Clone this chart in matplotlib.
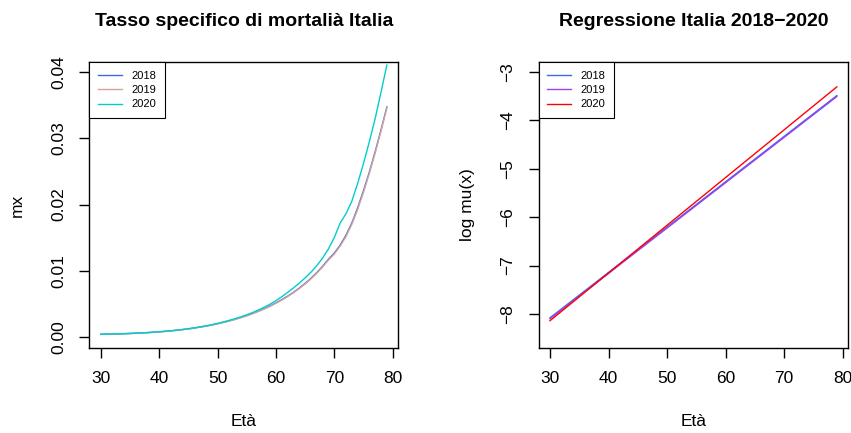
import numpy as np
import matplotlib
matplotlib.use("Agg")
from matplotlib import pyplot as plt

plt.rcParams['font.family'] = ['Liberation Sans', 'DejaVu Sans']

# eta' 30-79
ages = list(range(30, 80))

# tassi specifici di mortalita' (mx) per anno
mx2018 = [0.00037, 0.00039, 0.00041, 0.00043, 0.00046, 0.00049, 0.00053, 0.00057, 0.00062, 0.00068,
          0.00074, 0.00081, 0.00089, 0.00098, 0.00108, 0.00119, 0.00132, 0.00146, 0.00161, 0.00178,
          0.00197, 0.00218, 0.00240, 0.00264, 0.00291, 0.00320, 0.00352, 0.00387, 0.00425, 0.00466,
          0.00511, 0.00560, 0.00613, 0.00672, 0.00736, 0.00806, 0.00884, 0.00970, 0.01066, 0.01172,
          0.01265, 0.01385, 0.01535, 0.01720, 0.01950, 0.02210, 0.02490, 0.02800, 0.03130, 0.03475]
mx2019 = [0.00036, 0.00038, 0.00040, 0.00042, 0.00045, 0.00048, 0.00052, 0.00056, 0.00061, 0.00067,
          0.00073, 0.00080, 0.00088, 0.00097, 0.00107, 0.00118, 0.00130, 0.00144, 0.00159, 0.00176,
          0.00195, 0.00215, 0.00237, 0.00261, 0.00287, 0.00316, 0.00348, 0.00382, 0.00420, 0.00460,
          0.00505, 0.00553, 0.00606, 0.00665, 0.00728, 0.00798, 0.00874, 0.00960, 0.01055, 0.01160,
          0.01250, 0.01370, 0.01515, 0.01700, 0.01925, 0.02185, 0.02470, 0.02780, 0.03110, 0.03460]
mx2020 = [0.00037, 0.00039, 0.00041, 0.00044, 0.00047, 0.00050, 0.00054, 0.00058, 0.00063, 0.00069,
          0.00075, 0.00082, 0.00090, 0.00099, 0.00110, 0.00121, 0.00134, 0.00148, 0.00164, 0.00182,
          0.00202, 0.00224, 0.00247, 0.00273, 0.00301, 0.00332, 0.00366, 0.00404, 0.00446, 0.00492,
          0.00545, 0.00605, 0.00670, 0.00738, 0.00810, 0.00890, 0.00975, 0.01075, 0.01190, 0.01330,
          0.01500, 0.01720, 0.01860, 0.02050, 0.02320, 0.02620, 0.02950, 0.03300, 0.03700, 0.04110]

# rette di regressione: log mu(x) stimato agli estremi (30, 79)
fit_ages = [30, 79]
fit2018 = [-8.08, -3.49]
fit2019 = [-8.10, -3.51]
fit2020 = [-8.14, -3.31]

years = ['2018', '2019', '2020']
col_mx = ['#3F6AD8', '#D2A49A', '#00CDCD']
col_fit = ['#4169E1', '#A040F0', '#FF0000']

W, H = 851, 433
fig = plt.figure(figsize=(W / 100, H / 100), dpi=100)

top = 1 - 61.7 / H
bottom = 1 - 348.3 / H
ax1 = fig.add_axes([89.3 / W, bottom, (398.3 - 89.3) / W, top - bottom])
ax2 = fig.add_axes([538.5 / W, bottom, (848.3 - 538.5) / W, top - bottom])


def r_style(ax, yticks, ylabels):
    ax.set_xlim(28.04, 80.96)
    ax.set_xticks([30, 40, 50, 60, 70, 80])
    ax.set_yticks(yticks)
    ax.set_yticklabels(ylabels)
    for s in ax.spines.values():
        s.set_linewidth(1.0)
    ax.tick_params(direction='out', length=7.5, width=1.0, labelsize=12.5, pad=9)
    for lab in ax.get_yticklabels():
        lab.set_rotation(90)
        lab.set_va('center')


for y, c, lab in zip([mx2018, mx2019, mx2020], col_mx, years):
    ax1.plot(ages, y, color=c, lw=1.0, label=lab)
ax1.set_ylim(-0.00175, 0.0416)
r_style(ax1, [0.00, 0.01, 0.02, 0.03, 0.04], ['0.00', '0.01', '0.02', '0.03', '0.04'])

for y, c, lab in zip([fit2018, fit2019, fit2020], col_fit, years):
    ax2.plot(fit_ages, y, color=c, lw=1.0, label=lab)
ax2.set_ylim(-8.71, -2.79)
r_style(ax2, [-8, -7, -6, -5, -4, -3],
        ['\u22128', '\u22127', '\u22126', '\u22125', '\u22124', '\u22123'])

for ax in (ax1, ax2):
    leg = ax.legend(loc='upper left', bbox_to_anchor=(0, 1), borderaxespad=0,
                    fancybox=False, edgecolor='black', framealpha=1, fontsize=8,
                    handlelength=2.1, handletextpad=0.9, labelspacing=0.4,
                    borderpad=0.8)
    leg.get_frame().set_linewidth(0.8)

fig.text(243.8 / W, 1 - 22 / H, 'Tasso specifico di mortalià Italia',
         ha='center', va='center', fontsize=14, fontweight='bold')
fig.text(693.4 / W, 1 - 22 / H, 'Regressione Italia 2018\u22122020',
         ha='center', va='center', fontsize=14, fontweight='bold')
fig.text(243.8 / W, 1 - 422 / H, 'Età', ha='center', va='center', fontsize=12.5)
fig.text(693.4 / W, 1 - 422 / H, 'Età', ha='center', va='center', fontsize=12.5)
fig.text(17 / W, 1 - 205 / H, 'mx', ha='center', va='center', rotation=90, fontsize=12.5)
fig.text(467 / W, 1 - 205 / H, 'log mu(x)', ha='center', va='center', rotation=90, fontsize=12.5)

fig.savefig('out.png', dpi=100)
